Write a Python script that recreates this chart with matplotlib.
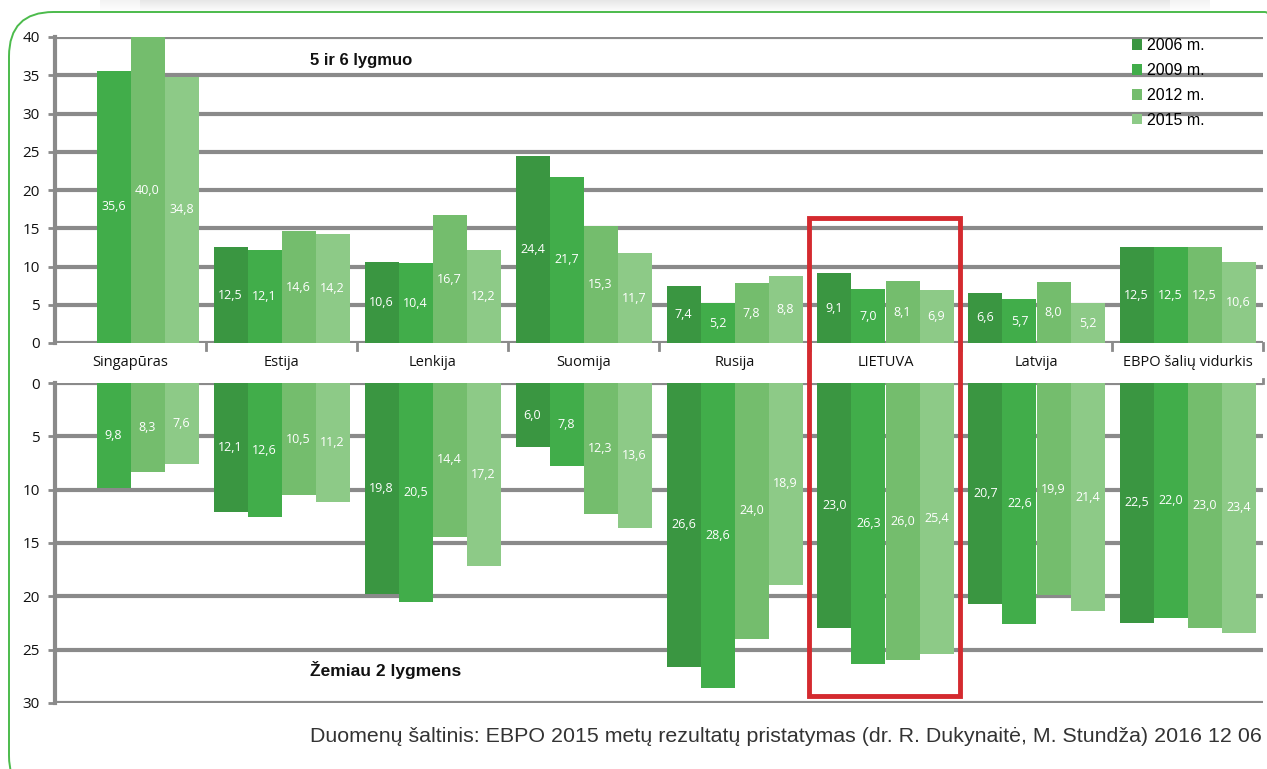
import numpy as np
import matplotlib
matplotlib.use("Agg")
import matplotlib.pyplot as plt
from matplotlib.patches import FancyBboxPatch, Rectangle
import matplotlib.transforms as mtransforms

categories = ["Singapūras", "Estija", "Lenkija", "Suomija", "Rusija", "LIETUVA", "Latvija", "EBPO šalių vidurkis"]
years = ["2006 m.", "2009 m.", "2012 m.", "2015 m."]
top_2006 = [np.nan, 12.5, 10.6, 24.4, 7.4, 9.1, 6.6, 12.5]
top_2009 = [35.6, 12.1, 10.4, 21.7, 5.2, 7.0, 5.7, 12.5]
top_2012 = [40.0, 14.6, 16.7, 15.3, 7.8, 8.1, 8.0, 12.5]
top_2015 = [34.8, 14.2, 12.2, 11.7, 8.8, 6.9, 5.2, 10.6]
bot_2006 = [np.nan, 12.1, 19.8, 6.0, 26.6, 23.0, 20.7, 22.5]
bot_2009 = [9.8, 12.6, 20.5, 7.8, 28.6, 26.3, 22.6, 22.0]
bot_2012 = [8.3, 10.5, 14.4, 12.3, 24.0, 26.0, 19.9, 23.0]
bot_2015 = [7.6, 11.2, 17.2, 13.6, 18.9, 25.4, 21.4, 23.4]
top_series = [top_2006, top_2009, top_2012, top_2015]
bot_series = [bot_2006, bot_2009, bot_2012, bot_2015]
colors = ["#3a9641", "#41ad4a", "#74bd6d", "#8dca87"]
top_title = "5 ir 6 lygmuo"
bot_title = "Žemiau 2 lygmens"
source = "Duomenų šaltinis: EBPO 2015 metų rezultatų pristatymas (dr. R. Dukynaitė, M. Stundža) 2016 12 06"

W, H = 1267, 769
fig = plt.figure(figsize=(W / 100, H / 100), dpi=100)
fig.patch.set_facecolor("white")

def fx(px):
    return px / W

def fy(py):
    return 1 - py / H

# soft top shadow band
for i in range(12):
    for j, (x0, x1) in enumerate([(100, 140), (140, 1170), (1170, 1210)]):
        a = (0.02 + 0.025 * i) * (0.5 if j != 1 else 1.0)
        fig.patches.append(Rectangle((fx(x0), fy(12 - i)), fx(x1 - x0), 1 / H,
                                     transform=fig.transFigure, facecolor="#b0b0b0",
                                     alpha=a, edgecolor="none", zorder=0))

# rounded green border
border = FancyBboxPatch((fx(9), fy(800)), fx(1300), (800 - 12) / H,
                        boxstyle="round,pad=0,rounding_size=0.035",
                        transform=fig.transFigure, facecolor="none",
                        edgecolor="#4cbb4c", linewidth=1.4, zorder=1,
                        mutation_aspect=W / H)
fig.patches.append(border)

gridc = "#8a8a8a"
tick_family = ["Open Sans", "DejaVu Sans"]
lab_font = dict(family=["Open Sans", "DejaVu Sans"], size=9, color="white")

ax_l, ax_r = 55, 1263
ax1 = fig.add_axes([fx(ax_l), fy(343), fx(ax_r - ax_l), (343 - 37) / H])
ax2 = fig.add_axes([fx(ax_l), fy(703), fx(ax_r - ax_l), (703 - 383) / H])

n = len(categories)
x = np.arange(n)
bw = 34 / 151
offsets = (np.arange(4) - 1.5) * bw

for ax, series, ylim in [(ax1, top_series, (0, 40)), (ax2, bot_series, (30, 0))]:
    ax.set_xlim(-0.5, n - 0.5)
    ax.set_ylim(*ylim)
    ax.set_facecolor("none")
    for s in ["top", "right", "bottom"]:
        ax.spines[s].set_visible(False)
    ax.spines["left"].set_color(gridc)
    ax.spines["left"].set_linewidth(3)
    ax.set_yticks(np.arange(0, 41 if ylim[1] == 40 else 31, 5))
    ax.yaxis.grid(True, color=gridc, linewidth=3)
    ax.set_axisbelow(True)
    ax.tick_params(axis="y", length=5, width=2, color=gridc, pad=6)
    for t in ax.get_yticklabels():
        t.set_fontfamily(tick_family)
        t.set_fontsize(11)
        t.set_color("#111111")
    ax.set_xticks(np.arange(n + 1) - 0.5)
    ax.set_xticklabels([])
    ax.tick_params(axis="x", length=0)
    for i, vals in enumerate(series):
        v = np.array(vals, dtype=float)
        ax.bar(x + offsets[i], v, width=bw, color=colors[i],
               label=years[i], zorder=2, linewidth=0)
        for xi, val in zip(x + offsets[i], v):
            if np.isnan(val):
                continue
            ax.text(xi, val / 2, f"{val:.1f}".replace(".", ","), ha="center",
                    va="center", zorder=3, **lab_font)

# x tick marks at group boundaries on top axis baseline
for b in np.arange(n + 1) - 0.5:
    if b == -0.5:
        continue
    ax1.plot([b, b], [0, -0.9], color=gridc, lw=2, clip_on=False, zorder=1)
ax2.plot([n - 0.5, n - 0.5], [0, -0.4], color=gridc, lw=2, clip_on=False, zorder=1)

# category labels
trans = mtransforms.blended_transform_factory(ax1.transData, fig.transFigure)
for xi, c in zip(x, categories):
    ax1.text(xi, fy(363), c, transform=trans, ha="center", va="center",
             family=tick_family, size=10.5, color="#111111")

# panel titles
fig.text(fx(310), fy(60), top_title, ha="left", va="center",
         family=["Liberation Sans", "DejaVu Sans"], weight="bold", size=12, color="#111111")
fig.text(fx(310), fy(670), bot_title, ha="left", va="center",
         family=["Liberation Sans", "DejaVu Sans"], weight="bold", size=12.5, color="#111111")

# legend
ax1.legend(loc="upper left", bbox_to_anchor=(fx(1124), fy(30)),
           bbox_transform=fig.transFigure, frameon=False,
           prop=dict(family=["Liberation Sans", "DejaVu Sans"], size=11.5),
           handlelength=0.65, handleheight=0.65, handletextpad=0.3,
           labelspacing=0.62, borderpad=0)

# source text
fig.text(fx(1262), fy(737), source, ha="right", va="center",
         family=["Liberation Sans", "DejaVu Sans"], size=15.4, color="#333333")

# red highlight box
fig.patches.append(Rectangle((fx(809), fy(696)), fx(151), (696 - 218) / H,
                             transform=fig.transFigure, facecolor="none",
                             edgecolor="#d42a2f", linewidth=3.5, zorder=10))

fig.savefig("out.png", dpi=100, facecolor="white")
